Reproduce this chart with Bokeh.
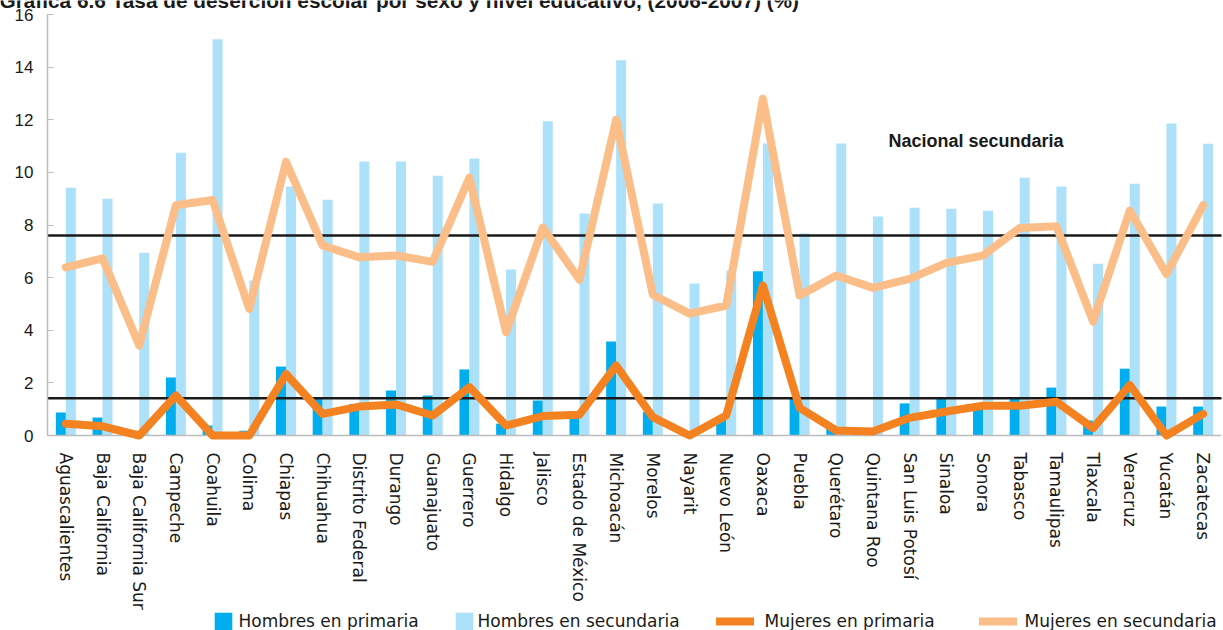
from bokeh.plotting import figure
from bokeh.models import FixedTicker, Label, Legend, LegendItem, LinearAxis, Range1d
from bokeh.transform import dodge
from bokeh.embed import file_html
from bokeh.resources import INLINE

estados = [
    "Aguascalientes", "Baja California", "Baja California Sur", "Campeche",
    "Coahuila", "Colima", "Chiapas", "Chihuahua", "Distrito Federal",
    "Durango", "Guanajuato", "Guerrero", "Hidalgo", "Jalisco",
    "Estado de México", "Michoacán", "Morelos", "Nayarit", "Nuevo León",
    "Oaxaca", "Puebla", "Querétaro", "Quintana Roo", "San Luis Potosí",
    "Sinaloa", "Sonora", "Tabasco", "Tamaulipas", "Tlaxcala", "Veracruz",
    "Yucatán", "Zacatecas",
]

hombres_primaria = [
    0.87, 0.68, 0.0, 2.2, 0.38, 0.18, 2.62, 1.39, 1.2, 1.71, 1.52, 2.51,
    0.45, 1.33, 0.91, 3.57, 0.89, 0.0, 0.72, 6.24, 1.46, 0.38, 0.1, 1.22,
    1.39, 1.08, 1.39, 1.82, 0.57, 2.54, 1.1, 1.1,
]
hombres_secundaria = [
    9.42, 9.0, 6.95, 10.75, 15.06, 5.89, 9.46, 8.96, 10.41, 10.41, 9.87,
    10.53, 6.31, 11.94, 8.44, 14.26, 8.82, 5.78, 6.27, 11.1, 7.68, 11.1,
    8.32, 8.66, 8.62, 8.54, 9.8, 9.46, 6.53, 9.57, 11.86, 11.09,
]
mujeres_primaria = [
    0.45, 0.35, 0.0, 1.52, 0.0, 0.0, 2.34, 0.82, 1.1, 1.18, 0.76, 1.84,
    0.38, 0.74, 0.79, 2.66, 0.7, 0.0, 0.76, 5.7, 1.05, 0.19, 0.15, 0.67,
    0.91, 1.13, 1.13, 1.28, 0.28, 1.92, 0.0, 0.82,
]
mujeres_secundaria = [
    6.39, 6.73, 3.42, 8.75, 8.95, 4.81, 10.4, 7.22, 6.77, 6.84, 6.6, 9.8,
    3.93, 7.9, 5.92, 12.0, 5.35, 4.63, 4.94, 12.8, 5.32, 6.08, 5.61, 5.95,
    6.56, 6.84, 7.89, 7.95, 4.33, 8.55, 6.14, 8.75,
]

nacional_secundaria = 7.6
nacional_primaria = 1.42

titulo = "Gráfica 6.6 Tasa de deserción escolar por sexo y nivel educativo, (2006-2007) (%)"
etiqueta_nacional = "Nacional secundaria"
y_ticks = [0, 2, 4, 6, 8, 10, 12, 14, 16]

AZUL = "#00AEEF"
AZUL_CLARO = "#ADE0F9"
NARANJA = "#F58220"
NARANJA_CLARO = "#FBBE89"
TEXTO = "#1a1a1a"
GRIS = "#BDBDBD"

W, H = 1223, 630
# plot area inside the canvas (pixels): left/right edges, top (y=16) and baseline (y=0)
AREA_L, AREA_R, AREA_T, AREA_B = 47, 1221, 14, 435
n = len(estados)
px_x = (AREA_R - AREA_L) / n
px_y = (AREA_B - AREA_T) / 16

x_range = Range1d(-AREA_L / px_x, n + (W - AREA_R) / px_x)
y_range = Range1d(-(H - AREA_B) / px_y, 16 + AREA_T / px_y)

p = figure(
    width=W, height=H, x_range=x_range, y_range=y_range,
    x_axis_location=None, y_axis_location=None,
    output_backend="svg", toolbar_location=None,
    min_border=0, min_border_left=0, min_border_right=0,
    min_border_top=0, min_border_bottom=0,
)
p.outline_line_color = None
p.grid.visible = False

pos = [i + 0.5 for i in range(n)]
data = dict(
    pos=pos, estado=estados,
    hp=hombres_primaria, hs=hombres_secundaria,
    mp=mujeres_primaria, ms=mujeres_secundaria,
)

# paired bars per state
bar_w = 0.272
r_hp = p.vbar(x=dodge("pos", -bar_w / 2), top="hp", bottom=0, width=bar_w,
              source=data, fill_color=AZUL, line_color=None)
r_hs = p.vbar(x=dodge("pos", bar_w / 2), top="hs", bottom=0, width=bar_w,
              source=data, fill_color=AZUL_CLARO, line_color=None)

# baseline and national reference levels
p.segment(x0=0, x1=n, y0=0, y1=0, line_color=GRIS, line_width=1.5)
p.segment(x0=[0, 0], x1=[n, n], y0=[nacional_secundaria, nacional_primaria],
          y1=[nacional_secundaria, nacional_primaria], line_color=TEXTO, line_width=2.5)

line_style = dict(line_width=8, line_join="round", line_cap="round")
r_mp = p.line(x="pos", y="mp", source=data, line_color=NARANJA, **line_style)
r_ms = p.line(x="pos", y="ms", source=data, line_color=NARANJA_CLARO, **line_style)

# value axis
yax = LinearAxis(fixed_location=0, bounds=(0, 16), ticker=FixedTicker(ticks=y_ticks))
yax.axis_line_color = GRIS
yax.axis_line_width = 1.5
yax.major_tick_line_color = GRIS
yax.major_tick_in = 6
yax.major_tick_out = 0
yax.minor_tick_line_color = None
yax.major_label_standoff = 14
yax.major_label_text_font = "Liberation Sans"
yax.major_label_text_font_size = "17px"
yax.major_label_text_color = TEXTO
p.add_layout(yax, "left")

# state names under the baseline
xax = LinearAxis(fixed_location=0, ticker=FixedTicker(ticks=pos),
                 major_label_overrides=dict(zip(pos, estados)))
xax.axis_line_color = None
xax.major_tick_line_color = None
xax.minor_tick_line_color = None
xax.major_label_orientation = "vertical"
xax.major_label_standoff = 11
xax.major_label_text_font = "DejaVu Sans"
xax.major_label_text_font_size = "17px"
xax.major_label_text_color = TEXTO
p.add_layout(xax, "below")

p.add_layout(Label(
    x=(888 - AREA_L) / px_x, y=11.2, text=etiqueta_nacional,
    text_font="Liberation Sans", text_font_style="bold", text_font_size="18px",
    text_baseline="middle", text_color=TEXTO,
))

# title line running off the top edge
p.add_layout(Label(
    x=-1, y=H, x_units="screen", y_units="screen", text=titulo,
    text_font="Liberation Sans", text_font_style="bold", text_font_size="20.8px",
    text_baseline="alphabetic", text_color=TEXTO,
))

# legend row along the bottom edge
legend_specs = [
    ("Hombres en primaria", r_hp, 211.5, 22, 5),
    ("Hombres en secundaria", r_hs, 452.5, 22, 3),
    ("Mujeres en primaria", r_mp, 715.5, 38, 11),
    ("Mujeres en secundaria", r_ms, 978.5, 38, 8),
]
for label, rend, lx, gw, standoff in legend_specs:
    leg = Legend(
        items=[LegendItem(label=label, renderers=[rend])],
        location=(lx, -2), orientation="horizontal",
        glyph_width=gw, glyph_height=22, label_height=22,
        label_standoff=standoff, padding=0, margin=0, spacing=0,
        border_line_color=None, background_fill_alpha=0,
        label_text_font="DejaVu Sans", label_text_font_size="17px",
        label_text_color=TEXTO,
    )
    p.add_layout(leg, "center")

open("out.html", "w").write(file_html(p, INLINE))
